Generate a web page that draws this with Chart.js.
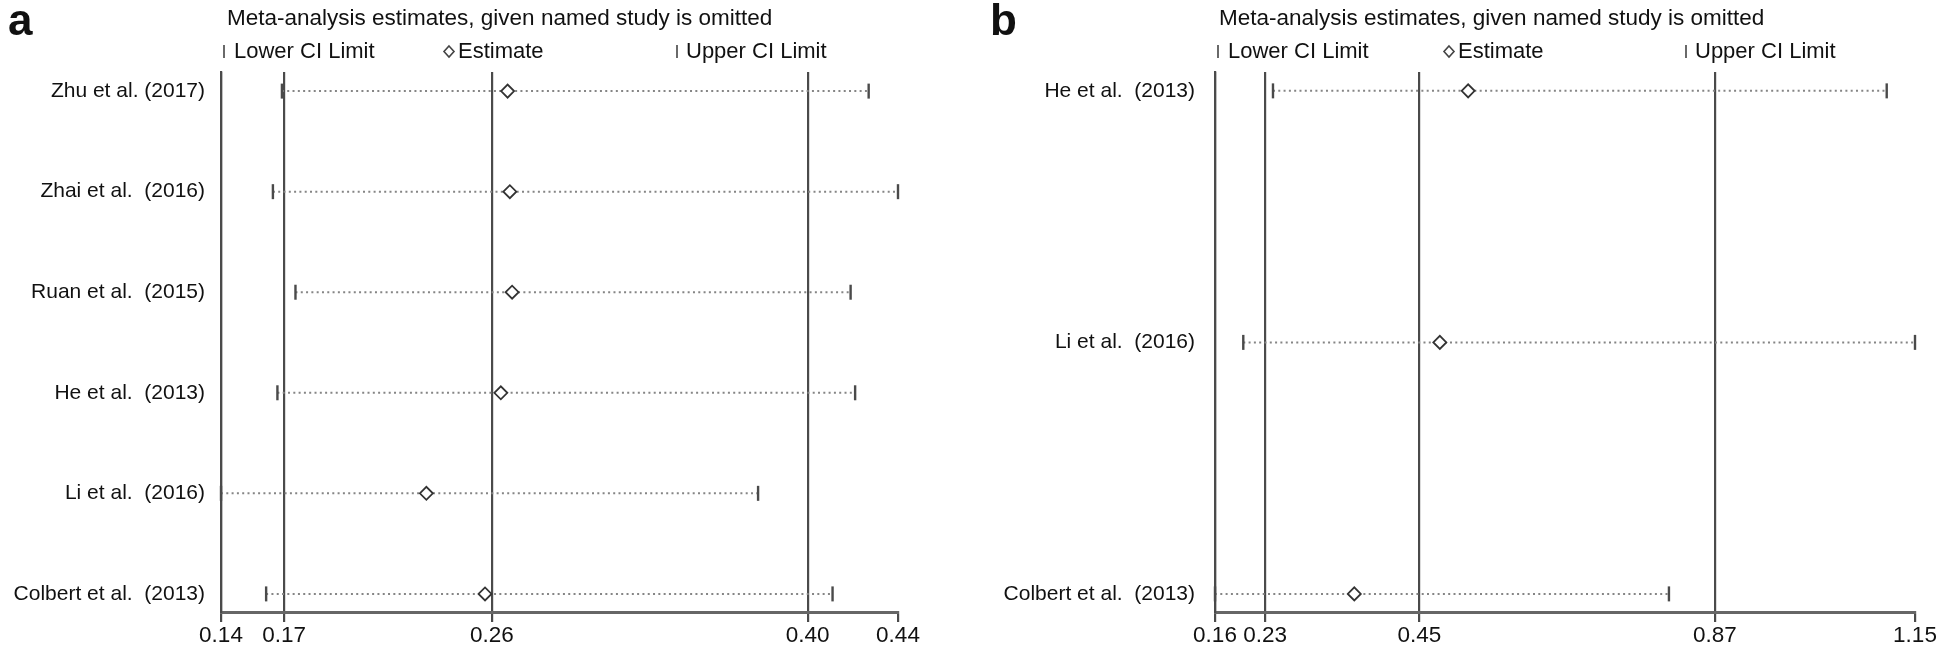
<!DOCTYPE html>
<html>
<head>
<meta charset="utf-8">
<title>Meta-analysis estimates</title>
<script src="https://cdn.jsdelivr.net/npm/chart.js@4.4.1/dist/chart.umd.min.js"></script>
<style>
  body { margin: 0; background: #ffffff; }
  #wrap { display: flex; width: 1946px; height: 646px; }
  canvas { display: block; }
</style>
</head>
<body>
<div id="wrap">
  <canvas id="chart-a" width="973" height="646"></canvas>
  <canvas id="chart-b" width="973" height="646"></canvas>
</div>
<script>
// panel a data
var studiesA = ['Zhu et al. (2017)', 'Zhai et al.  (2016)', 'Ruan et al.  (2015)', 'He et al.  (2013)', 'Li et al.  (2016)', 'Colbert et al.  (2013)'];
var lowerA = [0.167, 0.163, 0.173, 0.165, 0.140, 0.160];
var estimateA = [0.267, 0.268, 0.269, 0.264, 0.231, 0.257];
var upperA = [0.427, 0.440, 0.419, 0.421, 0.378, 0.411];
var tickValuesA = [0.14, 0.168, 0.26, 0.40, 0.44];
var tickLabelsA = ['0.14', '0.17', '0.26', '0.40', '0.44'];

// panel b data
var studiesB = ['He et al.  (2013)', 'Li et al.  (2016)', 'Colbert et al.  (2013)'];
var lowerB = [0.242, 0.200, 0.160];
var estimateB = [0.518, 0.478, 0.357];
var upperB = [1.110, 1.150, 0.802];
var tickValuesB = [0.16, 0.231, 0.449, 0.867, 1.15];
var tickLabelsB = ['0.16', '0.23', '0.45', '0.87', '1.15'];

var titleText = 'Meta-analysis estimates, given named study is omitted';
var FONT = '"Liberation Sans", Arial, sans-serif';

// draws the panel letter, title and the little legend row
var headerPlugin = {
  id: 'header',
  afterDraw: function(chart, args, opts) {
    var ctx = chart.ctx;
    var left = chart.chartArea.left;
    ctx.save();
    ctx.fillStyle = '#111';
    ctx.textBaseline = 'alphabetic';
    ctx.font = 'bold 44px ' + FONT;
    ctx.fillText(opts.letter, opts.letterX, 35);
    ctx.font = '22.5px ' + FONT;
    ctx.fillText(titleText, left + opts.titleDx, 25);

    ctx.font = '22px ' + FONT;
    ctx.strokeStyle = '#444';
    ctx.lineWidth = 1.6;
    // lower CI marker
    ctx.beginPath();
    ctx.moveTo(left + opts.lowerDx, 45);
    ctx.lineTo(left + opts.lowerDx, 58);
    ctx.stroke();
    ctx.fillText('Lower CI Limit', left + opts.lowerDx + 10, 58);
    // estimate marker
    var dx = left + opts.estDx;
    ctx.beginPath();
    ctx.moveTo(dx, 46);
    ctx.lineTo(dx + 5, 51.5);
    ctx.lineTo(dx, 57);
    ctx.lineTo(dx - 5, 51.5);
    ctx.closePath();
    ctx.stroke();
    ctx.fillText('Estimate', dx + 9, 58);
    // upper CI marker
    ctx.beginPath();
    ctx.moveTo(left + opts.upperDx, 45);
    ctx.lineTo(left + opts.upperDx, 58);
    ctx.stroke();
    ctx.fillText('Upper CI Limit', left + opts.upperDx + 9, 58);
    ctx.restore();
  }
};

function makePanel(canvasId, studies, lower, estimate, upper, tickValues, tickLabels, layout) {
  var canvas = document.getElementById(canvasId);
  var ctx = canvas.getContext('2d');

  // dotted CI lines, broken between studies
  var segments = [];
  lower.forEach(function(lo, i) {
    segments.push({ x: lo, y: i }, { x: upper[i], y: i }, { x: upper[i], y: null });
  });

  var data = {
    datasets: [
      {
        label: 'Estimate',
        data: estimate.map(function(v, i) { return { x: v, y: i }; }),
        pointStyle: 'rectRot',
        pointRadius: 6.5,
        pointBackgroundColor: '#ffffff',
        pointBorderColor: '#333',
        pointBorderWidth: 1.8,
        clip: false,
        order: 0
      },
      {
        label: 'Lower CI Limit',
        data: lower.map(function(v, i) { return { x: v, y: i }; }),
        pointStyle: 'line',
        rotation: 90,
        pointRadius: 7.5,
        pointBorderColor: '#4a4a4a',
        pointBorderWidth: 2.4,
        clip: false,
        order: 1
      },
      {
        label: 'Upper CI Limit',
        data: upper.map(function(v, i) { return { x: v, y: i }; }),
        pointStyle: 'line',
        rotation: 90,
        pointRadius: 7.5,
        pointBorderColor: '#4a4a4a',
        pointBorderWidth: 2.4,
        clip: false,
        order: 1
      },
      {
        label: 'CI',
        data: segments,
        showLine: true,
        spanGaps: false,
        borderColor: '#858585',
        borderWidth: 2,
        borderDash: [2, 3.3],
        pointRadius: 0,
        clip: false,
        order: 2
      }
    ]
  };

  var options = {
    responsive: false,
    animation: false,
    layout: {
      padding: { left: 0, right: layout.padRight, top: 72, bottom: 0 }
    },
    plugins: {
      legend: { display: false },
      tooltip: { enabled: false },
      header: layout.header
    },
    scales: {
      x: {
        type: 'linear',
        min: tickValues[0],
        max: tickValues[tickValues.length - 1],
        afterBuildTicks: function(scale) {
          scale.ticks = tickValues.map(function(v) { return { value: v }; });
        },
        afterFit: function(scale) { scale.height = 34; },
        ticks: {
          autoSkip: false,
          maxRotation: 0,
          padding: 0,
          color: '#111',
          font: { family: FONT, size: 22.5 },
          callback: function(value, index) { return tickLabels[index]; }
        },
        grid: {
          drawOnChartArea: true,
          drawTicks: true,
          tickLength: 10,
          lineWidth: 2.2,
          tickColor: '#4a4a4a',
          color: function(c) {
            return c.index === tickValues.length - 1 ? 'rgba(0,0,0,0)' : '#4a4a4a';
          }
        },
        border: { display: true, color: '#666', width: 3 }
      },
      y: {
        type: 'linear',
        reverse: true,
        min: layout.yMin,
        max: layout.yMax,
        afterBuildTicks: function(scale) {
          scale.ticks = studies.map(function(s, i) { return { value: i }; });
        },
        afterFit: function(scale) { scale.width = layout.axisLeft; },
        ticks: {
          autoSkip: false,
          padding: layout.labelPad,
          color: '#111',
          font: { family: FONT, size: 21 },
          callback: function(value) { return studies[value]; }
        },
        grid: { display: false, drawTicks: false },
        border: { display: true, color: '#4a4a4a', width: 2.2 }
      }
    }
  };

  return new Chart(ctx, {
    type: 'scatter',
    data: data,
    options: options,
    plugins: [headerPlugin]
  });
}

document.addEventListener('DOMContentLoaded', function() {
  makePanel('chart-a', studiesA, lowerA, estimateA, upperA, tickValuesA, tickLabelsA, {
    padRight: 75,
    axisLeft: 221,
    labelPad: 16,
    yMin: -0.19,
    yMax: 5.18,
    header: { letter: 'a', letterX: 8, titleDx: 6, lowerDx: 3, estDx: 228, upperDx: 456 }
  });
  makePanel('chart-b', studiesB, lowerB, estimateB, upperB, tickValuesB, tickLabelsB, {
    padRight: 31,
    axisLeft: 242,
    labelPad: 20,
    yMin: -0.075,
    yMax: 2.072,
    header: { letter: 'b', letterX: 17, titleDx: 4, lowerDx: 3, estDx: 234, upperDx: 471 }
  });
});
</script>
</body>
</html>
